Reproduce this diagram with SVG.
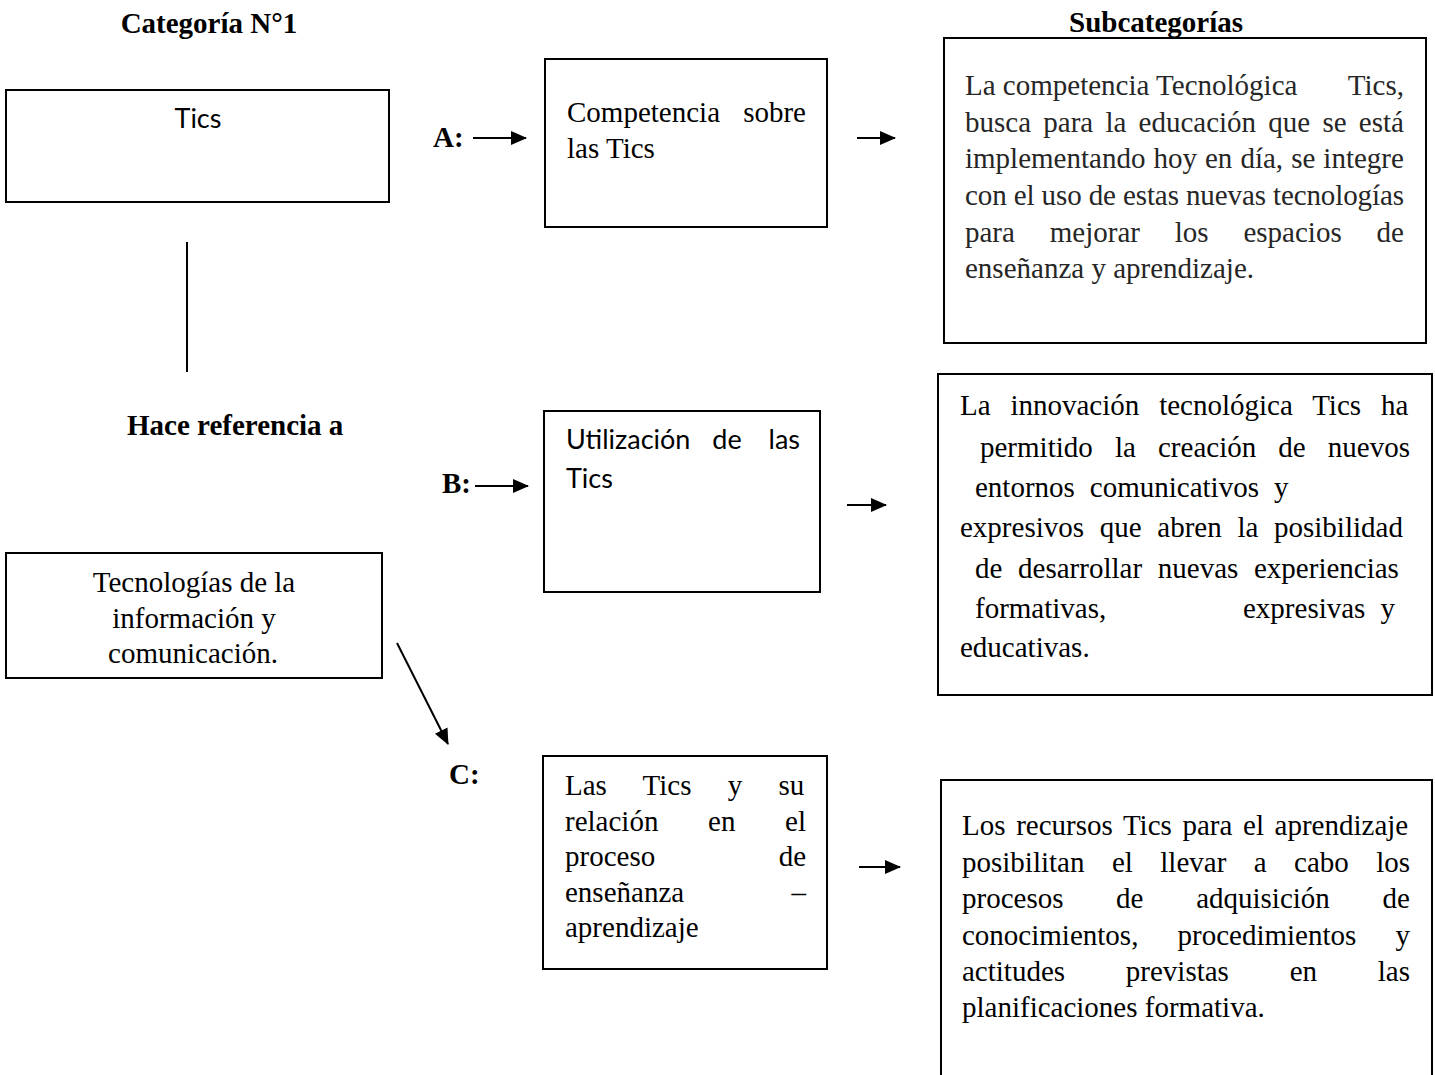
<svg xmlns="http://www.w3.org/2000/svg" width="1435" height="1075" viewBox="0 0 1435 1075">
<style>
.box{fill:#fff;stroke:#000;stroke-width:2}
.t{font-family:"Liberation Serif","Times New Roman",serif;font-size:29px;fill:#000}
.g{fill:#262626}
.b{font-family:"Liberation Serif","Times New Roman",serif;font-size:29px;font-weight:bold;fill:#000}
.s{font-family:Lato,"Liberation Sans",Arial,sans-serif;font-size:27px;fill:#000}
.e{text-anchor:end}
.m{text-anchor:middle}
.conn{stroke:#000;stroke-width:2;fill:none}
</style>
<defs>
<marker id="ah" viewBox="0 0 16 14" refX="15" refY="7" markerUnits="userSpaceOnUse" markerWidth="16" markerHeight="14" orient="auto">
<path d="M0,0 L16,7 L0,14 z" fill="#000"/>
</marker>
</defs>
<rect width="1435" height="1075" fill="#fff"/>

<g id="headings">
<text class="b m" x="209" y="33">Categoría N°1</text>
<text class="b m" x="1156" y="32">Subcategorías</text>
<text class="b" x="127" y="435">Hace referencia a</text>
<text class="b" x="433" y="147">A:</text>
<text class="b" x="442" y="493">B:</text>
<text class="b" x="449" y="784">C:</text>
</g>

<g id="connectors">
<line class="conn" x1="187" y1="242" x2="187" y2="372"/>
<line class="conn" x1="473" y1="138" x2="526" y2="138" marker-end="url(#ah)"/>
<line class="conn" x1="857" y1="138" x2="895" y2="138" marker-end="url(#ah)"/>
<line class="conn" x1="475" y1="486" x2="528" y2="486" marker-end="url(#ah)"/>
<line class="conn" x1="847" y1="505" x2="886" y2="505" marker-end="url(#ah)"/>
<line class="conn" x1="859" y1="867" x2="900" y2="867" marker-end="url(#ah)"/>
<line class="conn" x1="397" y1="643" x2="448" y2="744" marker-end="url(#ah)"/>
</g>

<g id="node-tics">
<rect class="box" x="6" y="90" width="383" height="112"/>
<text class="s m" x="198" y="128">Tics</text>
</g>

<g id="node-tecnologias">
<rect class="box" x="6" y="553" width="376" height="125"/>
<text class="t m" x="194" y="592">Tecnologías de la</text>
<text class="t m" x="194" y="628">información y</text>
<text class="t m" x="193" y="663">comunicación.</text>
</g>

<g id="node-a">
<rect class="box" x="545" y="59" width="282" height="168"/>
<text class="t" x="567" y="122">Competencia</text>
<text class="t e" x="806" y="122">sobre</text>
<text class="t" x="567" y="158">las Tics</text>
</g>

<g id="node-b">
<rect class="box" x="544" y="411" width="276" height="181"/>
<text class="s" x="566" y="449">Utilización</text>
<text class="s m" x="727" y="449">de</text>
<text class="s e" x="800" y="449">las</text>
<text class="s" x="566" y="488">Tics</text>
</g>

<g id="node-c">
<rect class="box" x="543" y="756" width="284" height="213"/>
<text class="t" x="565" y="795" style="word-spacing:29px">Las Tics y su</text>
<text class="t" x="565" y="831" style="word-spacing:42.4px">relación en el</text>
<text class="t" x="565" y="866">proceso</text>
<text class="t e" x="806" y="866">de</text>
<text class="t" x="565" y="902">enseñanza</text>
<text class="t e" x="806" y="902">–</text>
<text class="t" x="565" y="937">aprendizaje</text>
</g>

<g id="node-sub-a">
<rect class="box" x="944" y="38" width="482" height="305"/>
<text class="t g" x="965" y="95">La competencia Tecnológica</text>
<text class="t g e" x="1404" y="95">Tics,</text>
<text class="t g" x="965" y="132" style="word-spacing:4.98px">busca para la educación que se está</text>
<text class="t g" x="965" y="168" style="word-spacing:0.8px">implementando hoy en día, se integre</text>
<text class="t g" x="965" y="205" textLength="439" lengthAdjust="spacing">con el uso de estas nuevas tecnologías</text>
<text class="t g" x="965" y="242" style="word-spacing:27.6px">para mejorar los espacios de</text>
<text class="t g" x="965" y="278">enseñanza y aprendizaje.</text>
</g>

<g id="node-sub-b">
<rect class="box" x="938" y="374" width="494" height="321"/>
<text class="t" x="960" y="415" style="word-spacing:12.6px">La innovación tecnológica Tics ha</text>
<text class="t" x="980" y="457" style="word-spacing:14.9px">permitido la creación de nuevos</text>
<text class="t" x="975" y="497" style="word-spacing:7.7px">entornos comunicativos y</text>
<text class="t" x="960" y="537" style="word-spacing:8.45px">expresivos que abren la posibilidad</text>
<text class="t" x="975" y="578" style="word-spacing:8.45px">de desarrollar nuevas experiencias</text>
<text class="t" x="975" y="618">formativas,</text>
<text class="t" x="1243" y="618">expresivas</text>
<text class="t e" x="1395" y="618">y</text>
<text class="t" x="960" y="657">educativas.</text>
</g>

<g id="node-sub-c">
<rect class="box" x="941" y="780" width="491" height="310"/>
<text class="t" x="962" y="835" style="word-spacing:3.4px">Los recursos Tics para el aprendizaje</text>
<text class="t" x="962" y="872" style="word-spacing:20.2px">posibilitan el llevar a cabo los</text>
<text class="t" x="962" y="908" style="word-spacing:45.4px">procesos de adquisición de</text>
<text class="t" x="962" y="945" style="word-spacing:31.9px">conocimientos, procedimientos y</text>
<text class="t" x="962" y="981" style="word-spacing:53.5px">actitudes previstas en las</text>
<text class="t" x="962" y="1017">planificaciones formativa.</text>
</g>
</svg>
